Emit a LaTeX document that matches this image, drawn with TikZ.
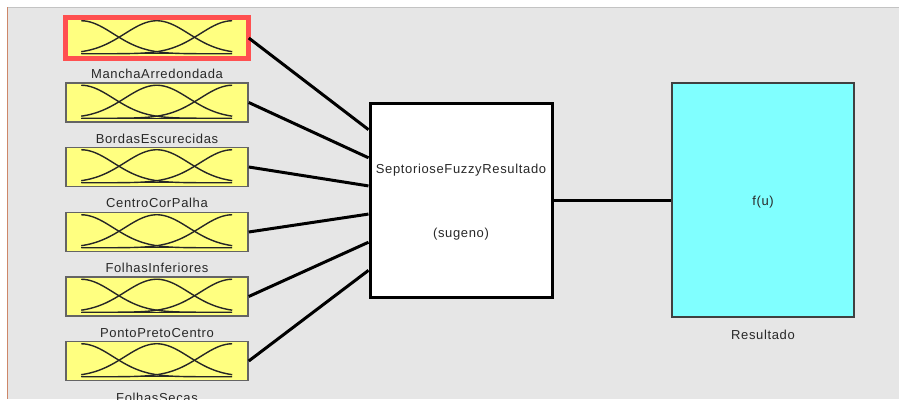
\documentclass[tikz,border=0pt]{standalone}
\usepackage{fontspec}
\setmainfont[LetterSpace=5]{Liberation Sans}
\usetikzlibrary{calc}
\definecolor{bggray}{RGB}{230,230,230}
\definecolor{mfyellow}{RGB}{255,255,128}
\definecolor{outcyan}{RGB}{128,255,255}
\definecolor{selred}{RGB}{255,80,80}
\definecolor{leftedge}{RGB}{205,135,105}
\definecolor{topedge}{RGB}{195,195,195}
\definecolor{boxedge}{RGB}{100,100,100}
\definecolor{txtgray}{RGB}{40,40,40}
\tikzset{
  mfbox/.style={draw=boxedge, line width=1.5pt, fill=mfyellow, minimum width=182pt, minimum height=39pt, inner sep=0pt},
  lbl/.style={text=txtgray, font=\fontsize{13}{15}\selectfont, inner sep=0pt},
  conn/.style={line width=3pt, black},
  mfcurve/.style={line width=1.4pt, black!85},
}
\newcommand{\mfset}[1]{%
  \begin{scope}[shift={(#1.north west)}]
    \draw[mfcurve] plot[domain=0:1, samples=50] ({16+151*\x}, {3+33*(1-exp(-(\x)^2/0.09))});
    \draw[mfcurve] plot[domain=0:1, samples=50] ({16+151*\x}, {3+33*(1-exp(-(\x-0.5)^2/0.09))});
    \draw[mfcurve] plot[domain=0:1, samples=50] ({16+151*\x}, {3+33*(1-exp(-(\x-1)^2/0.09))});
    \draw[mfcurve] (16,36) -- (167,36);
  \end{scope}}
\begin{document}
\begin{tikzpicture}[x=1pt, y=-1pt]
\useasboundingbox (0,0) rectangle (899,399);
\clip (0,0) rectangle (899,399);
\fill[white] (0,0) rectangle (899,399);
\fill[bggray] (7,7) rectangle (899,399);
\draw[topedge, line width=1.5pt] (7,7.5) -- (899,7.5);
\draw[leftedge, line width=1.5pt] (7.5,7) -- (7.5,399);

% input boxes
\node[mfbox] (in1) at (157,38) {};
\node[mfbox] (in2) at (157,102.5) {};
\node[mfbox] (in3) at (157,167) {};
\node[mfbox] (in4) at (157,232) {};
\node[mfbox] (in5) at (157,296.5) {};
\node[mfbox] (in6) at (157,361) {};
\foreach \n in {in1,in2,in3,in4,in5,in6} {\mfset{\n}}
\draw[selred, line width=5pt] (in1.north west) rectangle (in1.south east);

\node[lbl] (l1) at (157,74) {ManchaArredondada};
\node[lbl] (l2) at (157,139) {BordasEscurecidas};
\node[lbl] (l3) at (157,203) {CentroCorPalha};
\node[lbl] (l4) at (157,268) {FolhasInferiores};
\node[lbl] (l5) at (157,333) {PontoPretoCentro};
\node[lbl] (l6) at (157,398) {FolhasSecas};

% FIS box
\node[draw=black, line width=3pt, fill=white, minimum width=182pt, minimum height=194pt, inner sep=0pt] (fis) at (461,200) {};
\node[lbl] (fisname) at (461,170) {SeptorioseFuzzyResultado};
\node[lbl] (fistype) at (461,234) {(sugeno)};

% output box
\node[draw=black!75, line width=2pt, fill=outcyan, minimum width=182pt, minimum height=234pt, inner sep=0pt] (out) at (763,200) {};
\node[lbl] (fu) at (763,202) {f(u)};
\node[lbl] (outname) at (763,335) {Resultado};

% connectors
\foreach \i in {1,...,6} {
  \draw[conn] (in\i.east) -- ($(fis.north west)!\i/7!(fis.south west)$);
}
\draw[conn] (fis.east) -- (out.west);
\end{tikzpicture}
\end{document}
